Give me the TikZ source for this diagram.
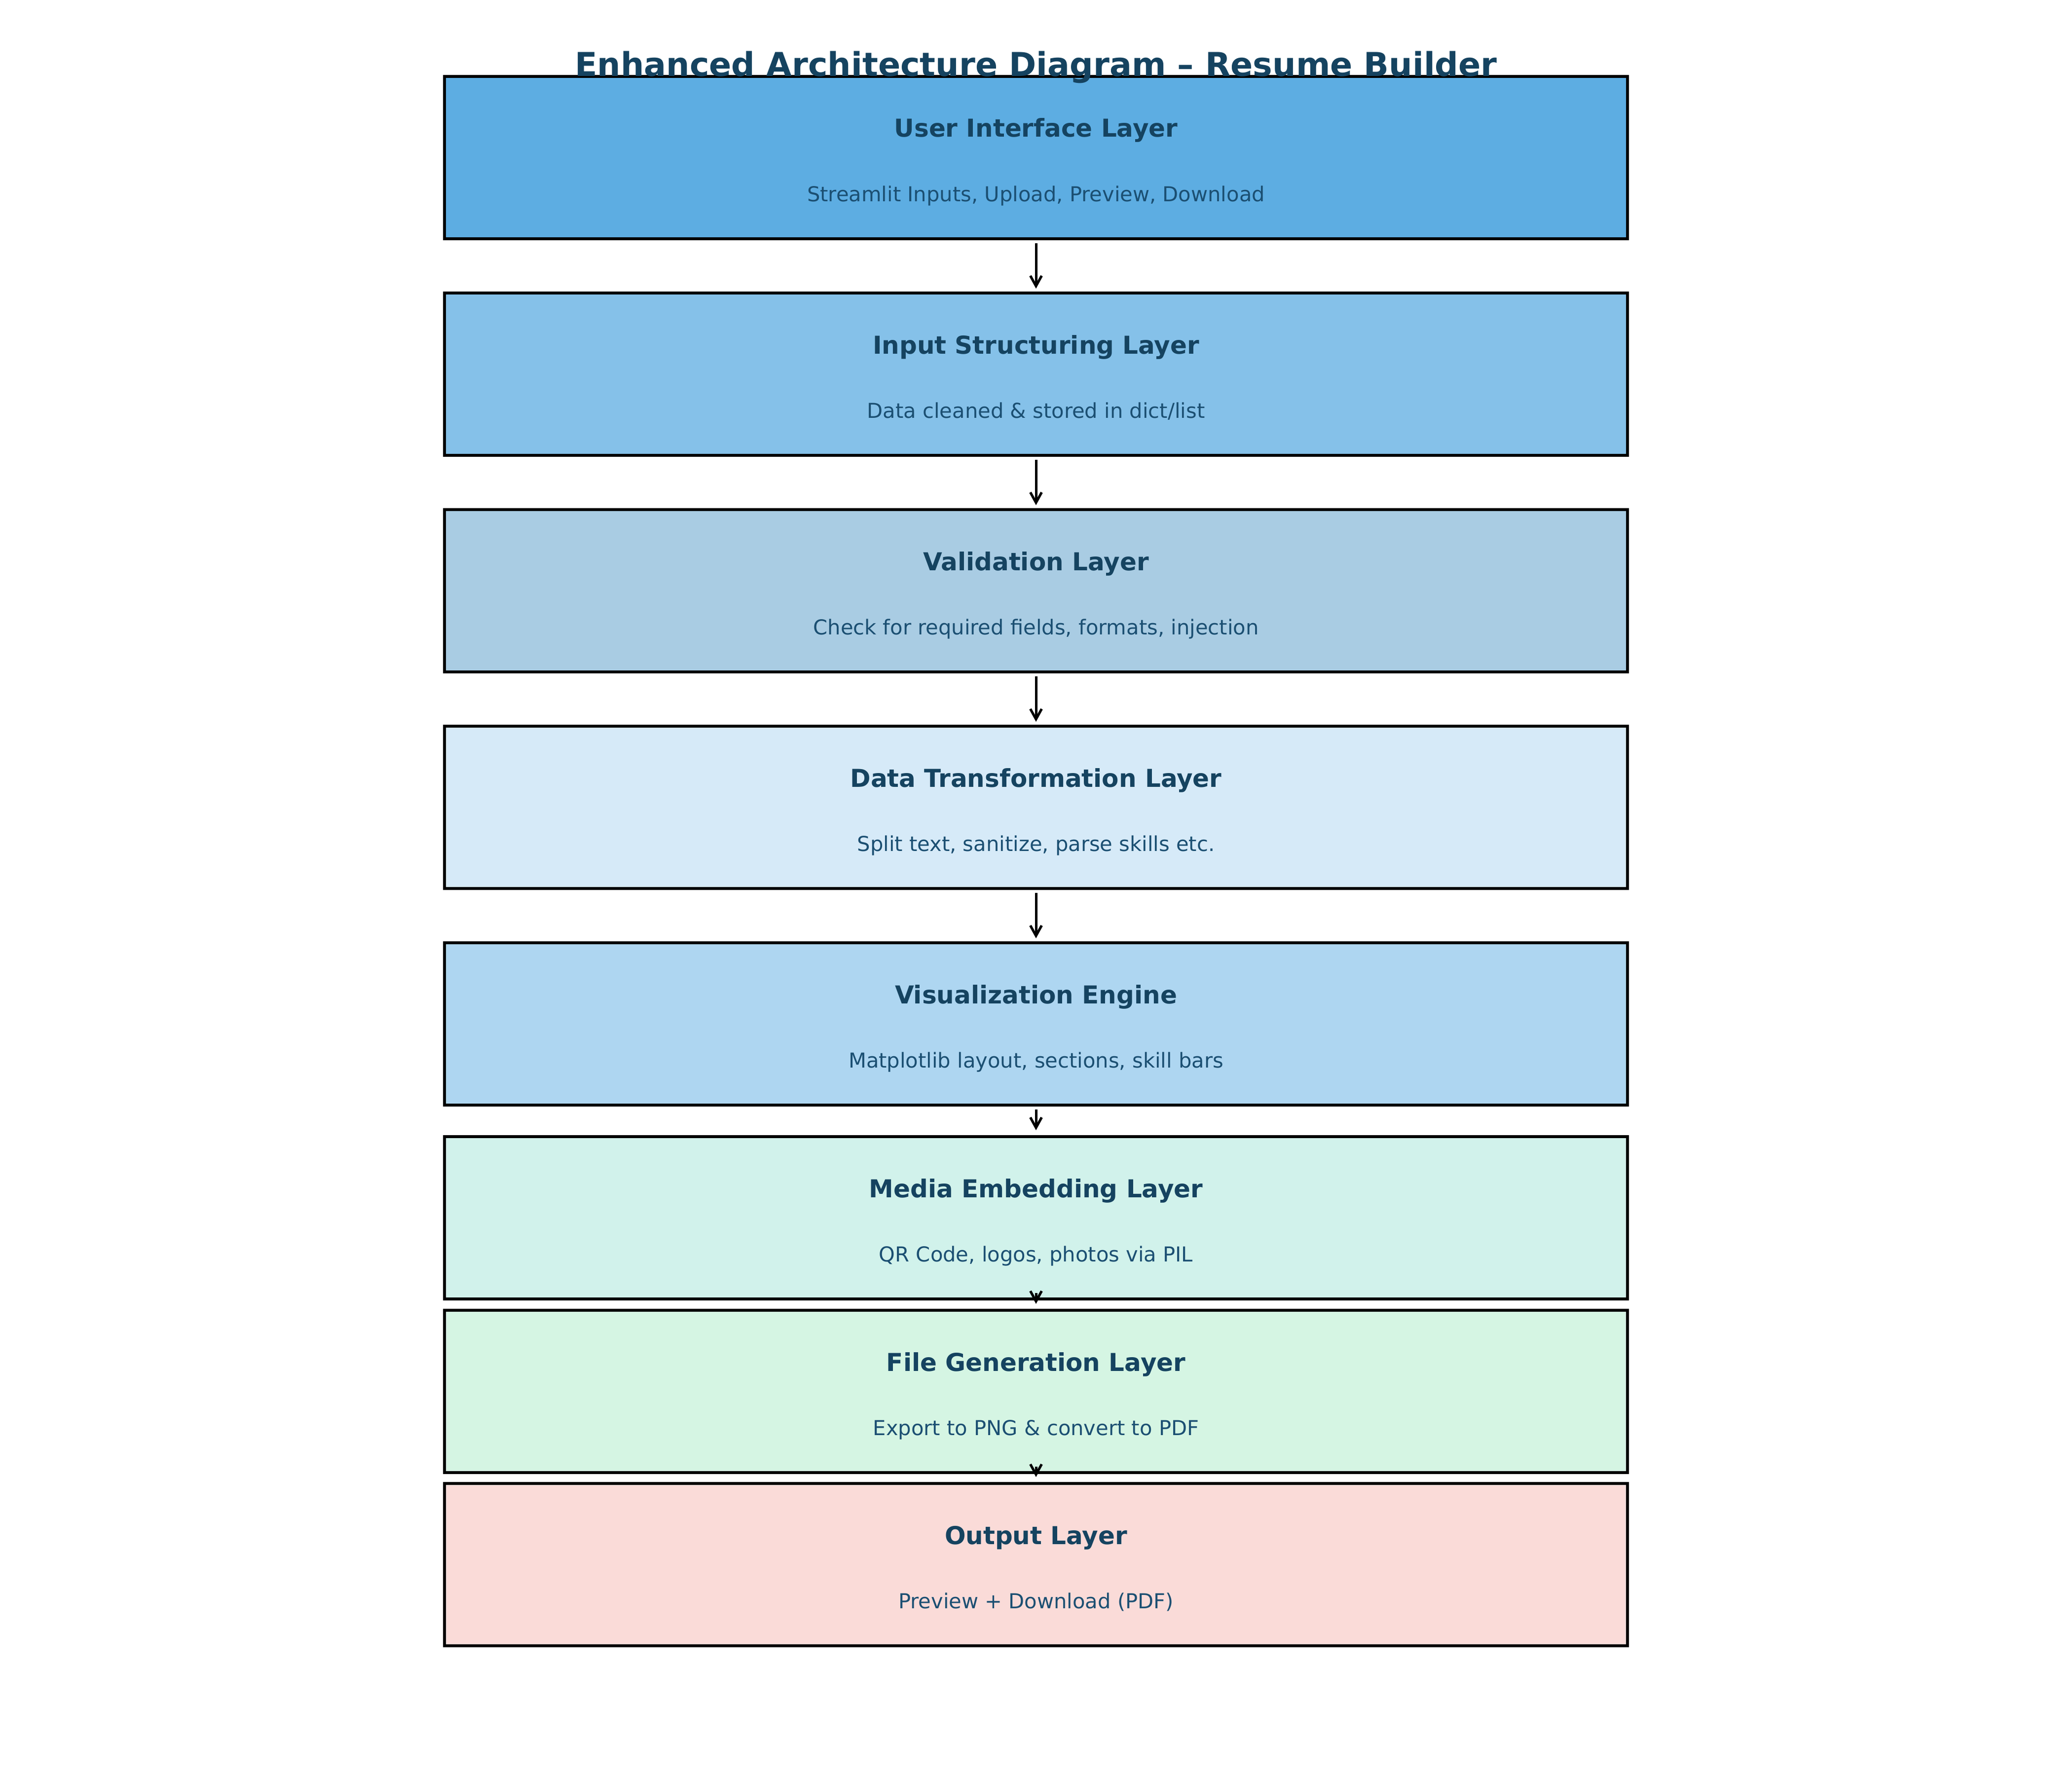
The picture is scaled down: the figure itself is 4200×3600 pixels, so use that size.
\documentclass[tikz,border=0pt]{standalone}
\usepackage{fontspec}
\setmainfont{DejaVu Sans}
\usetikzlibrary{arrows.meta,calc}
\definecolor{ink}{HTML}{154360}
\definecolor{subink}{HTML}{1B4F72}
\definecolor{cA}{HTML}{5DADE2}
\definecolor{cB}{HTML}{85C1E9}
\definecolor{cC}{HTML}{A9CCE3}
\definecolor{cD}{HTML}{D6EAF8}
\definecolor{cE}{HTML}{AED6F1}
\definecolor{cF}{HTML}{D1F2EB}
\definecolor{cG}{HTML}{D5F5E3}
\definecolor{cH}{HTML}{FADBD8}
\tikzset{
  layerbox/.style={draw=black, line width=1.5pt, rectangle, minimum width=575.52pt, minimum height=78.96pt, inner sep=0pt, outer sep=0pt},
  layertitle/.style={anchor=base, text=ink, font=\fontsize{12}{14}\selectfont\bfseries, inner sep=0pt},
  layersub/.style={anchor=base, text=subink, font=\fontsize{10}{12}\selectfont, inner sep=0pt},
  flow/.style={draw=black, line width=1.2pt, -{Straight Barb[length=5pt, width=5.5pt, line width=1.2pt]}},
  maintitle/.style={anchor=base, text=ink, font=\fontsize{16}{19}\selectfont\bfseries, inner sep=0pt}
}
\begin{document}
\begin{tikzpicture}[x=0.24pt, y=-0.24pt]
\useasboundingbox (0,0) rectangle (4200,3600);
\fill[white] (0,0) rectangle (4200,3600);
% boxes (centre y = top + 164.5)
\node[layerbox, fill=cA] (b1) at (2100, 319.5) {};
\node[layerbox, fill=cB] (b2) at (2100, 758.5) {};
\node[layerbox, fill=cC] (b3) at (2100, 1197.5) {};
\node[layerbox, fill=cD] (b4) at (2100, 1636.5) {};
\node[layerbox, fill=cE] (b5) at (2100, 2075.5) {};
\node[layerbox, fill=cF] (b6) at (2100, 2468.5) {};
\node[layerbox, fill=cG] (b7) at (2100, 2820.5) {};
\node[layerbox, fill=cH] (b8) at (2100, 3171.5) {};
% texts
\node[layertitle] (t1) at ($(b1.north)+(0,123)$) {User Interface Layer};
\node[layersub] (s1) at ($(b1.north)+(0,253)$) {Streamlit Inputs, Upload, Preview, Download};
\node[layertitle] (t2) at ($(b2.north)+(0,123)$) {Input Structuring Layer};
\node[layersub] (s2) at ($(b2.north)+(0,253)$) {Data cleaned \& stored in dict/list};
\node[layertitle] (t3) at ($(b3.north)+(0,123)$) {Validation Layer};
\node[layersub] (s3) at ($(b3.north)+(0,253)$) {Check for required fields, formats, injection};
\node[layertitle] (t4) at ($(b4.north)+(0,123)$) {Data Transformation Layer};
\node[layersub] (s4) at ($(b4.north)+(0,253)$) {Split text, sanitize, parse skills etc.};
\node[layertitle] (t5) at ($(b5.north)+(0,123)$) {Visualization Engine};
\node[layersub] (s5) at ($(b5.north)+(0,253)$) {Matplotlib layout, sections, skill bars};
\node[layertitle] (t6) at ($(b6.north)+(0,123)$) {Media Embedding Layer};
\node[layersub] (s6) at ($(b6.north)+(0,253)$) {QR Code, logos, photos via PIL};
\node[layertitle] (t7) at ($(b7.north)+(0,123)$) {File Generation Layer};
\node[layersub] (s7) at ($(b7.north)+(0,253)$) {Export to PNG \& convert to PDF};
\node[layertitle] (t8) at ($(b8.north)+(0,123)$) {Output Layer};
\node[layersub] (s8) at ($(b8.north)+(0,253)$) {Preview + Download (PDF)};
% arrows
\draw[flow] ($(b1.south)+(0,9)$) -- ($(b2.north)+(0,-9)$);
\draw[flow] ($(b2.south)+(0,9)$) -- ($(b3.north)+(0,-9)$);
\draw[flow] ($(b3.south)+(0,9)$) -- ($(b4.north)+(0,-9)$);
\draw[flow] ($(b4.south)+(0,9)$) -- ($(b5.north)+(0,-9)$);
\draw[flow] ($(b5.south)+(0,9)$) -- ($(b6.north)+(0,-13)$);
\draw[flow] ($(b6.south)+(0,-12)$) -- ($(b6.south)+(0,10)$);
\draw[flow] ($(b7.south)+(0,-12)$) -- ($(b7.south)+(0,9)$);
% title
\node[maintitle] (title) at (2100, 155) {Enhanced Architecture Diagram – Resume Builder};
\end{tikzpicture}
\end{document}
